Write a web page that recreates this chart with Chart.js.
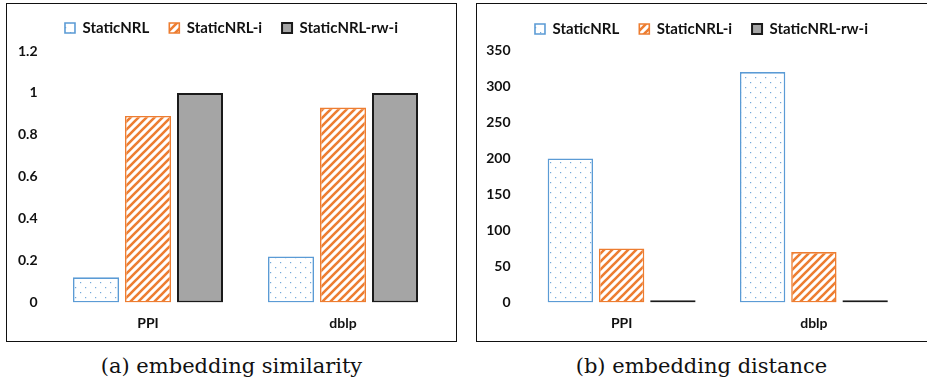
<!DOCTYPE html>
<html><head><meta charset="utf-8">
<script src="https://cdn.jsdelivr.net/npm/chart.js@4.4.1/dist/chart.umd.min.js"></script>
<style>
body{margin:0;background:#fff;width:927px;height:380px;position:relative;overflow:hidden}
.frame{position:absolute;border:1.5px solid #111;box-sizing:border-box}
.cv{position:absolute;top:0}
.cap{position:absolute;top:353px;font-family:'DejaVu Serif';font-size:21px;line-height:26px;color:#111;text-align:center;white-space:nowrap}
</style></head><body>
<div class="frame" style="left:6px;top:3px;width:451px;height:339px"></div>
<div class="frame" style="left:476px;top:3px;width:452px;height:339px"></div>
<div class="cv" style="left:8px"><canvas id="c1" width="447" height="340"></canvas></div>
<div class="cv" style="left:478px"><canvas id="c2" width="447" height="340"></canvas></div>
<div class="cap" style="left:6px;width:451px">(a) embedding similarity</div>
<div class="cap" style="left:476px;width:451px">(b) embedding distance</div>
<script>
const categories = ['PPI', 'dblp'];
const seriesNames = ['StaticNRL', 'StaticNRL-i', 'StaticNRL-rw-i'];
const similarityStatic = [0.12, 0.22];
const similarityI = [0.89, 0.93];
const similarityRw = [1.0, 1.0];
const distanceStatic = [200, 320];
const distanceI = [75, 70];
const distanceRw = [3, 3];

function dotPattern() {
  const c = document.createElement('canvas'); c.width = 10; c.height = 10;
  const x = c.getContext('2d');
  x.fillStyle = '#fff'; x.fillRect(0, 0, 10, 10);
  x.fillStyle = 'rgba(91,155,213,0.85)';
  x.fillRect(2, 2, 1.2, 1.2);
  x.fillRect(7, 7, 1.2, 1.2);
  return x.createPattern(c, 'repeat');
}
function hatchPattern() {
  const s = 8;
  const c = document.createElement('canvas'); c.width = s; c.height = s;
  const x = c.getContext('2d');
  x.fillStyle = '#fff'; x.fillRect(0, 0, s, s);
  x.strokeStyle = '#ED7D31'; x.lineWidth = 2.6;
  x.beginPath();
  x.moveTo(-1, s + 1); x.lineTo(s + 1, -1);
  x.moveTo(-1, 1); x.lineTo(1, -1);
  x.moveTo(s - 1, s + 1); x.lineTo(s + 1, s - 1);
  x.stroke();
  return x.createPattern(c, 'repeat');
}

const legendSpacer = {
  id: 'legendSpacer',
  beforeInit(chart) {
    const lg = chart.legend;
    const orig = lg.fit;
    lg.fit = function () {
      orig.call(lg);
      lg.height += chart.options.plugins.legendSpacer.extra;
    };
  },
  afterLayout(chart) {
    const lg = chart.legend;
    lg.left = 0;
    lg.right = chart.width;
  }
};

const txt = '#111';
const font = { family: 'Lato', weight: 'bold', size: 14 };
const legendFont = { family: 'Lato', weight: 'bold', size: 15 };

function makeChart(id, vals, yMax, yStep, yWidth, yPad, rightPad, topPad, extra) {
  const datasets = [
    { label: seriesNames[0], data: vals[0], backgroundColor: dotPattern(), borderColor: '#5B9BD5', borderWidth: 1.6 },
    { label: seriesNames[1], data: vals[1], backgroundColor: hatchPattern(), borderColor: '#ED7D31', borderWidth: 1.6 },
    { label: seriesNames[2], data: vals[2], backgroundColor: '#A5A5A5', borderColor: '#1a1a1a', borderWidth: 2 }
  ].map(d => Object.assign(d, { borderSkipped: false, categoryPercentage: 0.8, barPercentage: 0.885 }));
  return new Chart(document.getElementById(id), {
    type: 'bar',
    data: { labels: categories, datasets },
    plugins: [legendSpacer],
    options: {
      responsive: false,
      animation: false,
      layout: { padding: { left: 0, right: rightPad, top: topPad, bottom: 0 } },
      plugins: {
        legendSpacer: { extra },
        tooltip: { enabled: false },
        legend: {
          position: 'top',
          labels: { boxWidth: 10, boxHeight: 10, padding: 20, color: txt, font: legendFont }
        }
      },
      scales: {
        x: {
          grid: { display: false, drawTicks: false },
          border: { display: false },
          ticks: { color: txt, font, padding: 13 },
          afterFit(s) { s.height = 37.5; }
        },
        y: {
          min: 0, max: yMax,
          grid: { display: false, drawTicks: false },
          border: { display: false },
          ticks: { stepSize: yStep, color: txt, font, padding: yPad, callback: v => String(+Number(v).toFixed(2)) },
          afterFit(s) { s.width = yWidth; }
        }
      }
    }
  });
}

makeChart('c1', [similarityStatic, similarityI, similarityRw], 1.2, 0.2, 42.5, 13, 14.5, 0.5, 5.5);
makeChart('c2', [distanceStatic, distanceI, distanceRw], 350, 50, 47.5, 15, 15, 1.5, 4);
</script>
</body></html>
